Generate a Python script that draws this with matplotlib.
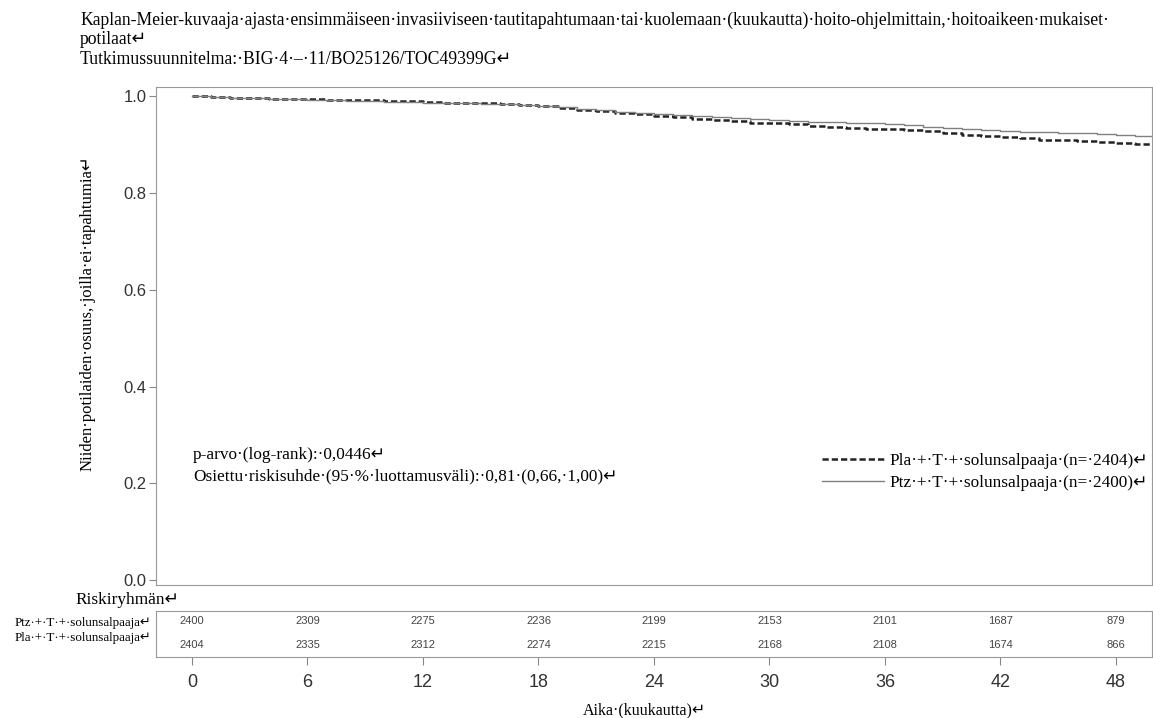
import matplotlib
matplotlib.use("Agg")
import matplotlib.pyplot as plt
from matplotlib.lines import Line2D

SERIF = ["Liberation Serif", "DejaVu Sans"]
SANS = ["Liberation Sans", "DejaVu Sans"]

# kuukaudet ja eloonjaamisosuudet (luettu kuvasta)
months = [0, 1, 2, 3, 4, 5, 6, 7, 8, 9, 10, 11, 12, 13, 14, 15, 16, 17, 18, 19, 20,
          21, 22, 23, 24, 25, 26, 27, 28, 29, 30, 31, 32, 33, 34, 35, 36, 37, 38, 39,
          40, 41, 42, 43, 44, 45, 46, 47, 48, 49, 49.8]
surv_pla = [1.000, 0.998, 0.997, 0.996, 0.995, 0.995, 0.994, 0.993, 0.993, 0.992, 0.991,
            0.990, 0.988, 0.987, 0.986, 0.985, 0.984, 0.982, 0.979, 0.976, 0.972, 0.969,
            0.966, 0.963, 0.960, 0.957, 0.952, 0.950, 0.948, 0.945, 0.944, 0.942, 0.939,
            0.937, 0.935, 0.933, 0.932, 0.930, 0.928, 0.923, 0.920, 0.918, 0.915, 0.913,
            0.910, 0.909, 0.908, 0.906, 0.903, 0.901, 0.901]
surv_ptz = [1.000, 0.998, 0.997, 0.996, 0.995, 0.994, 0.993, 0.992, 0.991, 0.990, 0.989,
            0.988, 0.987, 0.986, 0.985, 0.984, 0.983, 0.981, 0.979, 0.977, 0.974, 0.971,
            0.968, 0.966, 0.964, 0.962, 0.960, 0.957, 0.955, 0.953, 0.951, 0.949, 0.947,
            0.946, 0.945, 0.944, 0.942, 0.940, 0.937, 0.935, 0.933, 0.930, 0.928, 0.927,
            0.926, 0.925, 0.924, 0.922, 0.920, 0.917, 0.917]

# riskitaulukko
risk_times = [0, 6, 12, 18, 24, 30, 36, 42, 48]
risk_ptz = [2400, 2309, 2275, 2236, 2199, 2153, 2101, 1687, 879]
risk_pla = [2404, 2335, 2312, 2274, 2215, 2168, 2108, 1674, 866]
y_ticks = [0.0, 0.2, 0.4, 0.6, 0.8, 1.0]

label_pla = "Pla·+·T·+·solunsalpaaja·(n=·2404)↵"
label_ptz = "Ptz·+·T·+·solunsalpaaja·(n=·2400)↵"

fig = plt.figure(figsize=(11.53, 7.18), dpi=100)
ax = fig.add_axes([0.1353, 0.1852, 0.8638, 0.6936])
ax_r = fig.add_axes([0.1353, 0.0850, 0.8638, 0.0641])

ax.plot(months, surv_pla, drawstyle="steps-post", color="#222222", lw=1.8,
        linestyle=(0, (2.5, 1.2)))
ax.plot(months, surv_ptz, drawstyle="steps-post", color="#808080", lw=1.0)

ax.set_xlim(-1.87, 49.87)
ax.set_ylim(-0.01, 1.019)
ax.set_xticks([])
ax.set_yticks(y_ticks)
ax.set_yticklabels(["%.1f" % v for v in y_ticks], family=SANS, fontsize=12, color="#333333")
ax.tick_params(axis="y", length=5, color="#888888", pad=2)
for s in ax.spines.values():
    s.set_color("#999999")

handles = [Line2D([], [], color="#222222", lw=1.8, linestyle=(0, (2.5, 1.2))),
           Line2D([], [], color="#808080", lw=1.0)]
ax.legend(handles, [label_pla, label_ptz], loc="upper left",
          bbox_to_anchor=(822 / 1153, 1 - 453 / 718), bbox_transform=fig.transFigure,
          frameon=False, handlelength=3.6, handletextpad=0.3, labelspacing=0.33,
          borderpad=0, borderaxespad=0, prop={"family": SERIF, "size": 12.4})

fig.text(193 / 1153, 1 - 455 / 718, "p-arvo·(log-rank):·0,0446↵", family=SERIF,
         fontsize=12.4, va="center")
fig.text(193 / 1153, 1 - 476 / 718,
         "Osiettu·riskisuhde·(95·%·luottamusväli):·0,81·(0,66,·1,00)↵",
         family=SERIF, fontsize=12.4, va="center")

# riskitaulukko
ax_r.set_xlim(-1.87, 49.87)
ax_r.set_ylim(0, 2)
for t, a, b in zip(risk_times, risk_ptz, risk_pla):
    ax_r.text(t, 1.55, str(a), ha="center", va="center", family=SANS, fontsize=8,
              color="#444444")
    ax_r.text(t, 0.5, str(b), ha="center", va="center", family=SANS, fontsize=8,
              color="#444444")
ax_r.set_yticks([])
ax_r.set_xticks(risk_times)
ax_r.set_xticklabels([str(t) for t in risk_times], family=SANS, fontsize=13,
                     color="#333333")
ax_r.tick_params(axis="x", length=6, color="#888888", pad=6)
for s in ax_r.spines.values():
    s.set_color("#999999")

fig.text(15 / 1153, 1 - 623 / 718, "Ptz·+·T·+·solunsalpaaja↵", family=SERIF,
         fontsize=9.4, va="center")
fig.text(15 / 1153, 1 - 638 / 718, "Pla·+·T·+·solunsalpaaja↵", family=SERIF,
         fontsize=9.4, va="center")
fig.text(75 / 1153, 1 - 600 / 718, "Riskiryhmän↵", family=SERIF, fontsize=12.4,
         va="center")

fig.text(644 / 1153, 1 - 710 / 718, "Aika·(kuukautta)↵", family=SERIF, fontsize=11.5,
         ha="center", va="center")
fig.text(88 / 1153, 1 - 313 / 718, "Niiden·potilaiden·osuus,·joilla·ei·tapahtumia↵",
         family=SERIF, fontsize=12, rotation=90, ha="center", va="center")

fig.text(80 / 1153, 1 - 20 / 718,
         "Kaplan-Meier-kuvaaja·ajasta·ensimmäiseen·invasiiviseen·tautitapahtumaan·tai·"
         "kuolemaan·(kuukautta)·hoito-ohjelmittain,·hoitoaikeen·mukaiset·",
         family=SERIF, fontsize=12.7, va="center")
fig.text(80 / 1153, 1 - 40 / 718, "potilaat↵", family=SERIF, fontsize=12.7, va="center")
fig.text(80 / 1153, 1 - 60 / 718, "Tutkimussuunnitelma:·BIG·4·–·11/BO25126/TOC49399G↵",
         family=SERIF, fontsize=12.7, va="center")

fig.savefig("out.png", dpi=100)
